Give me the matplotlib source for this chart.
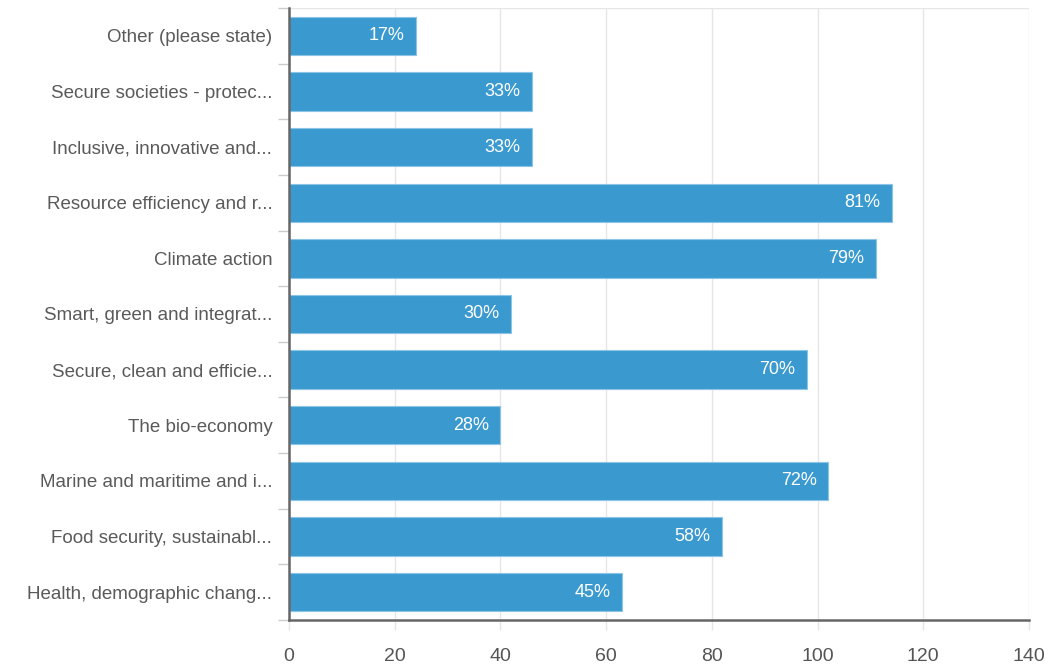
import numpy as np
import matplotlib.pyplot as plt
from matplotlib.ticker import FixedLocator

# top-to-bottom order as shown in the chart
categories = [
    "Other (please state)",
    "Secure societies - protec...",
    "Inclusive, innovative and...",
    "Resource efficiency and r...",
    "Climate action",
    "Smart, green and integrat...",
    "Secure, clean and efficie...",
    "The bio-economy",
    "Marine and maritime and i...",
    "Food security, sustainabl...",
    "Health, demographic chang...",
]
counts = [24, 46, 46, 114, 111, 42, 98, 40, 102, 82, 63]
pct_labels = ["17%", "33%", "33%", "81%", "79%", "30%", "70%", "28%", "72%", "58%", "45%"]
x_ticks = [0, 20, 40, 60, 80, 100, 120, 140]

plt.rcParams['font.family'] = ['Liberation Sans', 'DejaVu Sans']

fig = plt.figure(figsize=(10.45, 6.66), dpi=100)
ax = fig.add_axes([289/1045, 1 - 620/666, 740/1045, 612/666])

n = len(categories)
ypos = np.arange(n)
ax.barh(ypos, counts, height=0.69, color='#3a9ad0', edgecolor='#8cc4e6', linewidth=0.8, zorder=3)

for i in range(n):
    ax.text(counts[i] - 2.2, ypos[i], pct_labels[i], ha='right', va='center',
            color='white', fontsize=13, zorder=4)

ax.set_xlim(0, 140)
ax.set_ylim(n - 0.5, -0.5)
ax.set_xticks(x_ticks)
ax.set_xticklabels([str(t) for t in x_ticks], fontsize=14, color='#555555')
ax.tick_params(axis='x', length=7.5, color='#e6e6e6', width=1, pad=13)

ax.set_yticks(ypos)
ax.set_yticklabels(categories, fontsize=13.5, color='#5a5a5a')
ax.tick_params(axis='y', which='major', length=0, pad=12)
ax.yaxis.set_minor_locator(FixedLocator(np.arange(-0.5, n, 1.0)))
ax.tick_params(axis='y', which='minor', length=8, color='#cccccc', width=1)

ax.grid(axis='x', color='#e6e6e6', linewidth=1, zorder=0)
ax.axhline(-0.5, color='#e6e6e6', linewidth=1, zorder=0)

for s in ['top', 'right']:
    ax.spines[s].set_visible(False)
ax.spines['left'].set_color('#666666')
ax.spines['left'].set_linewidth(1.8)
ax.spines['bottom'].set_color('#666666')
ax.spines['bottom'].set_linewidth(1.8)
ax.spines['bottom'].set_zorder(5)
ax.spines['left'].set_zorder(5)

fig.savefig('out.png', dpi=100)
